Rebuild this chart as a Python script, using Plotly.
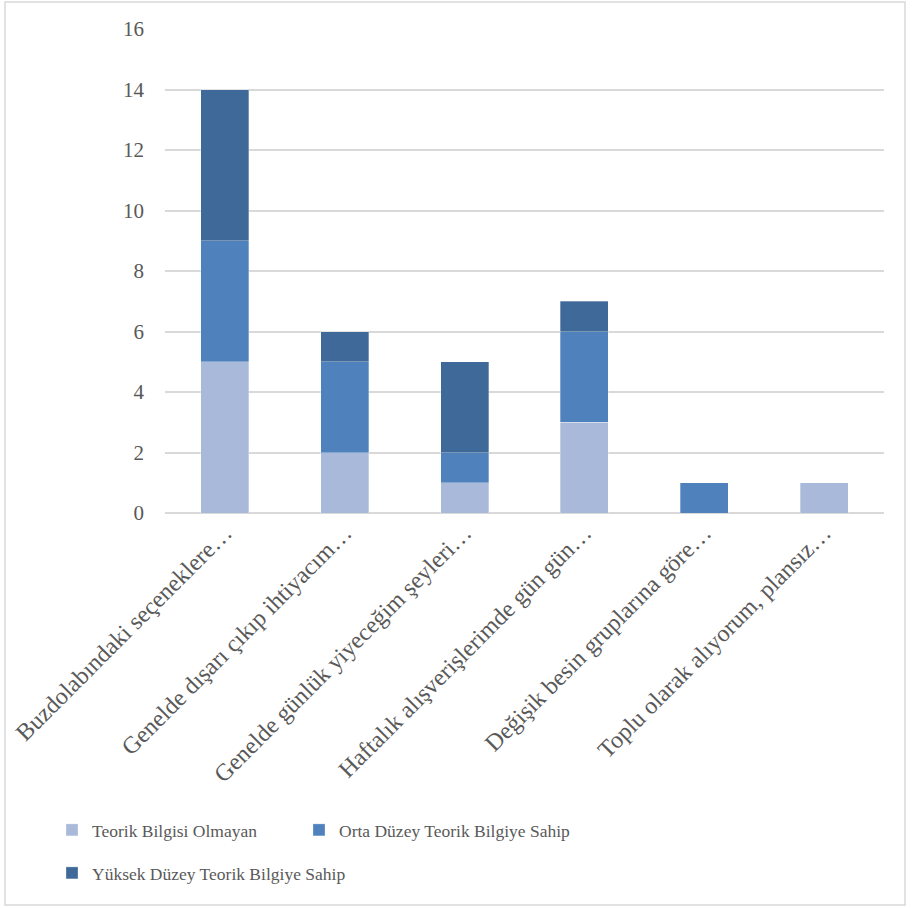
import plotly.graph_objects as go

categories = [
    "Buzdolabındaki seçeneklere…",
    "Genelde dışarı çıkıp ihtiyacım…",
    "Genelde günlük yiyeceğim şeyleri…",
    "Haftalık alışverişlerimde gün gün…",
    "Değişik besin gruplarına göre…",
    "Toplu olarak alıyorum, plansız…",
]
series_names = [
    "Teorik Bilgisi Olmayan",
    "Orta Düzey Teorik Bilgiye Sahip",
    "Yüksek Düzey Teorik Bilgiye Sahip",
]
teorik_yok = [5, 2, 1, 3, 0, 1]
orta_duzey = [4, 3, 1, 3, 1, 0]
yuksek_duzey = [5, 1, 3, 1, 0, 0]
y_ticks = [0, 2, 4, 6, 8, 10, 12, 14, 16]

colors = ["#A9B9D9", "#4F81BD", "#3F6998"]
FONT = "Liberation Serif"
legend_ids = ["legend", "legend2", "legend3"]

fig = go.Figure()
for name, vals, col, lg in zip(series_names, [teorik_yok, orta_duzey, yuksek_duzey], colors, legend_ids):
    fig.add_trace(go.Bar(
        x=categories, y=vals, name=name, legend=lg,
        marker=dict(color=col, line=dict(color="rgba(255,255,255,0.5)", width=0.6)),
    ))

W, H = 912, 908
L, R, T, B = 165, 28, 29, 395
pw, ph = W - L - R, H - T - B


def px_x(x):
    return (x - L) / pw


def px_y(y):
    return (H - B - y) / ph


leg_font = dict(family=FONT, size=17.5, color="#595959")
leg_common = dict(orientation="h", xanchor="left", yanchor="middle",
                  font=leg_font, itemwidth=30, bgcolor="rgba(0,0,0,0)")

fig.update_layout(
    barmode="stack",
    bargap=0.6,
    width=W, height=H,
    margin=dict(l=L, r=R, t=T, b=B),
    paper_bgcolor="white", plot_bgcolor="white",
    font=dict(family=FONT, color="#595959", size=18),
    showlegend=True,
    legend=dict(x=px_x(52), y=px_y(830), **leg_common),
    legend2=dict(x=px_x(299), y=px_y(830), **leg_common),
    legend3=dict(x=px_x(52), y=px_y(873), **leg_common),
    xaxis=dict(
        tickangle=-45, showgrid=False, showline=False, ticks="",
        tickfont=dict(family=FONT, size=24, color="#595959"),
    ),
    yaxis=dict(
        range=[0, 16], tickvals=y_ticks, showgrid=True, gridcolor="#D9D9D9",
        gridwidth=1.5, zeroline=True, zerolinecolor="#D9D9D9", zerolinewidth=1.5,
        ticks="", ticklabelstandoff=20,
        tickfont=dict(family=FONT, size=21, color="#595959"),
    ),
    shapes=[dict(
        type="rect", xref="paper", yref="paper",
        x0=px_x(5), x1=px_x(905),
        y0=px_y(905), y1=px_y(2),
        line=dict(color="#D9D9D9", width=1.5), fillcolor="rgba(0,0,0,0)",
    )],
)

fig.write_html("out.html", config={"displayModeBar": False},
               post_script="document.body.style.margin='0';")
